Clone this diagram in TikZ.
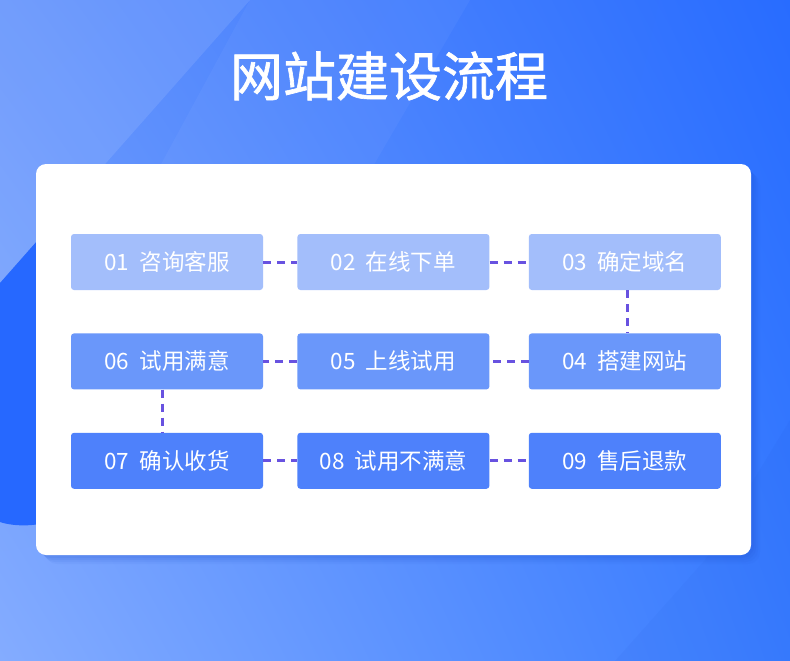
\documentclass[tikz,border=0pt]{standalone}
\usepackage{fontspec}
\usepackage{xcolor}
\usepackage{tikz}
\usetikzlibrary{positioning,shadings}
\newfontfamily\cjk{Noto Sans CJK SC}
\newfontfamily\cjkmedio{Noto Sans CJK SC}[FakeBold=1.2]
\definecolor{fondoA}{RGB}{98,146,252}
\definecolor{fondoB}{RGB}{40,108,255}
\definecolor{fondoC}{RGB}{132,172,255}
\definecolor{fondoD}{RGB}{56,124,255}
\definecolor{mancha}{RGB}{38,104,255}
\definecolor{sombra}{RGB}{30,80,205}
\definecolor{fila1}{RGB}{163,190,251}
\definecolor{fila2}{RGB}{106,151,250}
\definecolor{fila3}{RGB}{78,129,251}
\definecolor{linea}{RGB}{104,82,224}

\begin{document}
\begin{tikzpicture}[x=1pt, y=-1pt, font=\cjk, node distance=34pt and 34pt,
  paso/.style={rounded corners=3pt, minimum width=192pt, minimum height=56pt,
    inner sep=0pt, text=white, font=\cjk\fontsize{22.5}{26}\selectfont},
  enlace/.style={draw=linea, line width=3pt, dash pattern=on 8pt off 6pt}]
  \useasboundingbox (0,0) rectangle (790,661);
  % fondo
  \shade[upper left=fondoA, upper right=fondoB, lower left=fondoC, lower right=fondoD]
    (0,0) rectangle (790,661);
  \fill[white, opacity=0.10] (0,0) -- (250,0) -- (0,283) -- cycle;
  \fill[white, opacity=0.04] (250,0) -- (470,0) -- (330,240) -- (120,240) -- cycle;
  \fill[sombra, opacity=0.06] (705,560) -- (790,420) -- (790,661) -- (615,661) -- cycle;
  \fill[mancha] (0,283) -- (60,215) -- (60,518)
    .. controls (40,527) and (15,527) .. (0,522) -- cycle;
  % titulo
  \node[text=white, font=\cjkmedio\fontsize{53}{60}\selectfont] (titulo) at (389,76) {网站建设流程};
  % tarjeta
  \foreach \d/\o in {9/0.05, 7/0.07, 5/0.09, 3/0.10}
    \fill[sombra, opacity=\o, rounded corners=12pt] (36+\d,164+\d) rectangle (751+\d,555+\d);
  \fill[white, rounded corners=10pt] (36,164) rectangle (751,555);
  % pasos
  \node[paso, fill=fila1] (p01) at (167,262) {01\hspace{0.45em}咨询客服};
  \node[paso, fill=fila1, right=of p01] (p02) {02\hspace{0.45em}在线下单};
  \node[paso, fill=fila1, right=39pt of p02] (p03) {03\hspace{0.45em}确定域名};
  \node[paso, fill=fila2, below=43pt of p03] (p04) {04\hspace{0.45em}搭建网站};
  \node[paso, fill=fila2, below=43pt of p02] (p05) {05\hspace{0.45em}上线试用};
  \node[paso, fill=fila2, below=43pt of p01] (p06) {06\hspace{0.45em}试用满意};
  \node[paso, fill=fila3, below=43pt of p06] (p07) {07\hspace{0.45em}确认收货};
  \node[paso, fill=fila3, below=43pt of p05] (p08) {08\hspace{0.45em}试用不满意};
  \node[paso, fill=fila3, below=43pt of p04] (p09) {09\hspace{0.45em}售后退款};
  % enlaces
  \draw[enlace] (p01) -- (p02);
  \draw[enlace] (p02) -- (p03);
  \draw[enlace] ([xshift=3pt]p03.south) -- ([xshift=3pt]p04.north);
  \draw[enlace] (p04) -- (p05);
  \draw[enlace] (p05) -- (p06);
  \draw[enlace] ([xshift=-5pt]p06.south) -- ([xshift=-5pt]p07.north);
  \draw[enlace] (p07) -- (p08);
  \draw[enlace] (p08) -- (p09);
\end{tikzpicture}
\end{document}
